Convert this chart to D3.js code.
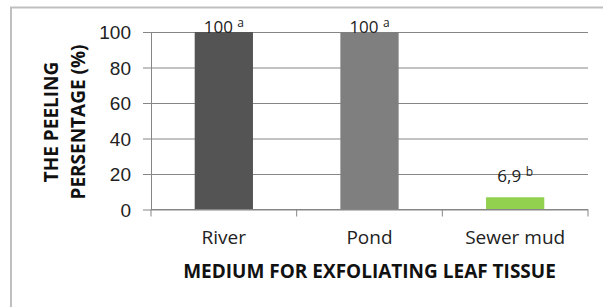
<!DOCTYPE html>
<html lang="en">
<head>
    <meta charset="UTF-8">
    <title>Peeling percentage</title>
    <script src="https://d3js.org/d3.v7.min.js"></script>
    <style>
        body { margin: 0; background: #fff; }
        svg { font-family: "Open Sans", sans-serif; }
        .gridlines .domain { display: none; }
        .gridlines line { stroke: #868686; }
        .axis .domain, .axis line { stroke: #868686; }
        .axis text { fill: #222; font-size: 19px; }
        .title { font-weight: bold; font-size: 19px; fill: #111; }
        .bar-label { font-size: 17px; fill: #222; }
    </style>
</head>
<body>
    <svg id="chart" width="603" height="307"></svg>
    <script>
        // data
        const categories = ["River", "Pond", "Sewer mud"];
        const values = [100, 100, 6.9];
        const valueLabels = ["100", "100", "6,9"];
        const letters = ["a", "a", "b"];
        const barColors = ["#545454", "#7f7f7f", "#92d050"];
        const yTicks = [0, 20, 40, 60, 80, 100];

        const svg = d3.select("#chart");
        const width = +svg.attr("width");
        const height = +svg.attr("height");
        const padding = { top: 32, right: 15, bottom: 97.5, left: 151 };
        const chartWidth = width - padding.left - padding.right;
        const chartHeight = height - padding.top - padding.bottom;

        // outer frame (cut off at right and bottom like the original)
        svg.append("rect")
            .attr("x", 11).attr("y", 7.5)
            .attr("width", 620).attr("height", 320)
            .attr("fill", "none")
            .attr("stroke", "#bfbfbf")
            .attr("stroke-width", 2);

        const chartArea = svg.append("g").attr("transform", `translate(${padding.left},${padding.top})`);

        const yScale = d3.scaleLinear().domain([0, 100]).range([chartHeight, 0]);
        const xScale = d3.scaleBand()
            .domain(categories)
            .range([0, chartWidth])
            .paddingInner(0.6)
            .paddingOuter(0.3);

        // gridlines
        chartArea.append("g")
            .attr("class", "gridlines")
            .call(d3.axisLeft(yScale).tickValues(yTicks).tickSize(-chartWidth).tickFormat(""));

        // y axis
        const yAxis = chartArea.append("g")
            .attr("class", "y axis")
            .call(d3.axisLeft(yScale).tickValues(yTicks).tickSize(8).tickPadding(12).tickSizeOuter(0));
        yAxis.selectAll("text").attr("dy", "0.36em");

        // bars
        chartArea.selectAll("rect.bar")
            .data(categories)
            .join("rect")
            .attr("class", "bar")
            .attr("x", d => xScale(d))
            .attr("y", (d, i) => yScale(values[i]))
            .attr("width", xScale.bandwidth())
            .attr("height", (d, i) => yScale(0) - yScale(values[i]))
            .attr("fill", (d, i) => barColors[i]);

        // x axis with ticks between categories
        const xAxis = chartArea.append("g")
            .attr("class", "x axis")
            .attr("transform", `translate(0,${chartHeight})`);
        xAxis.append("line")
            .attr("x1", 0).attr("x2", chartWidth)
            .attr("stroke", "#868686");
        const step = xScale.step();
        xAxis.selectAll("line.sep")
            .data(d3.range(categories.length + 1))
            .join("line")
            .attr("class", "sep")
            .attr("x1", i => i * step).attr("x2", i => i * step)
            .attr("y1", 0).attr("y2", 7)
            .attr("stroke", "#868686");
        xAxis.selectAll("text")
            .data(categories)
            .join("text")
            .attr("x", d => xScale(d) + xScale.bandwidth() / 2)
            .attr("y", 34.5)
            .attr("text-anchor", "middle")
            .text(d => d);

        // value labels with superscript letters
        const labels = chartArea.selectAll("text.bar-label")
            .data(categories)
            .join("text")
            .attr("class", "bar-label")
            .attr("x", d => xScale(d) + xScale.bandwidth() / 2)
            .attr("y", (d, i) => Math.max(yScale(values[i]) - 15, yScale(100) + 1))
            .attr("text-anchor", "middle");
        labels.append("tspan").text((d, i) => valueLabels[i] + " ");
        labels.append("tspan")
            .attr("dy", -6)
            .attr("font-size", 12)
            .text((d, i) => letters[i]);

        // axis titles
        svg.append("text")
            .attr("class", "title")
            .attr("x", padding.left + chartWidth / 2)
            .attr("y", 278)
            .attr("text-anchor", "middle")
            .text("MEDIUM FOR EXFOLIATING LEAF TISSUE");

        const yTitle = svg.append("text")
            .attr("class", "title")
            .attr("transform", "translate(58,122) rotate(-90)")
            .attr("text-anchor", "middle");
        yTitle.append("tspan").attr("x", 0).attr("y", 0).text("THE PEELING");
        yTitle.append("tspan").attr("x", 0).attr("y", 27).text("PERSENTAGE (%)");
    </script>
</body>
</html>
